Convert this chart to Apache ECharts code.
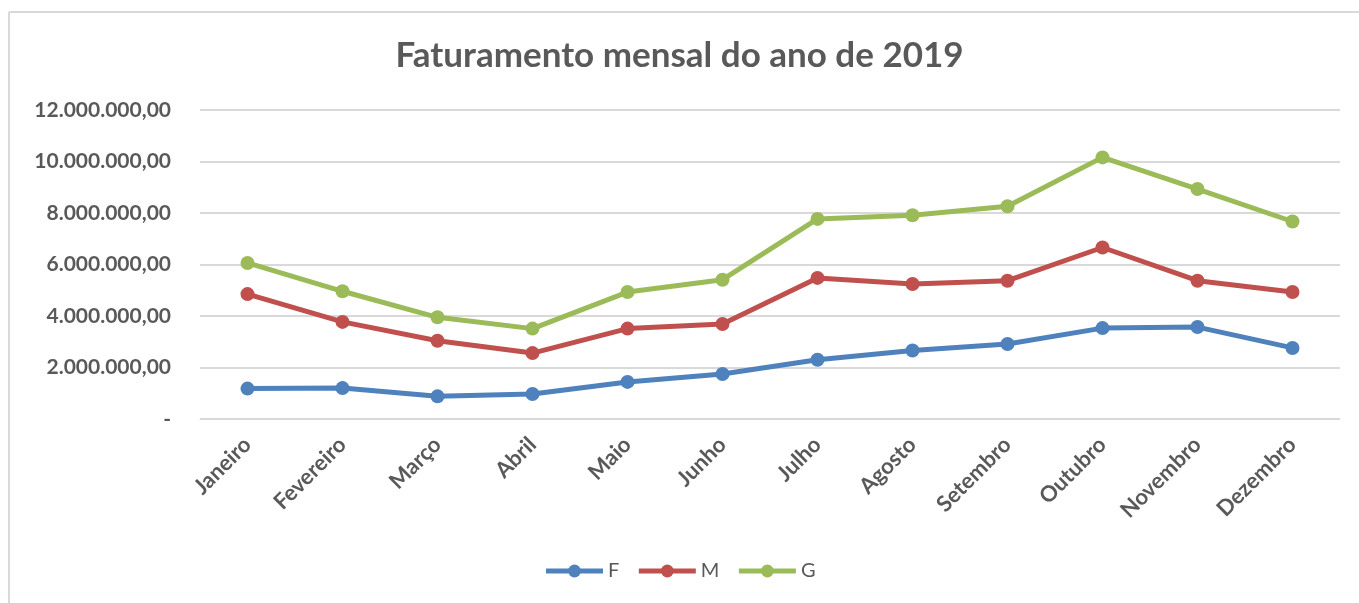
<!DOCTYPE html>
<html>
<head>
<meta charset="utf-8">
<script src="https://cdn.jsdelivr.net/npm/echarts@6/dist/echarts.min.js"></script>
<style>
html,body{margin:0;padding:0;background:#fff;}
#c{width:1359px;height:603px;}
</style>
</head>
<body>
<div id="c"></div>
<script>
const months = ['Janeiro','Fevereiro','Março','Abril','Maio','Junho','Julho','Agosto','Setembro','Outubro','Novembro','Dezembro'];
const seriesF = [1180000,1200000,880000,970000,1440000,1750000,2300000,2660000,2910000,3530000,3570000,2760000];
const seriesM = [4850000,3770000,3040000,2560000,3510000,3690000,5480000,5240000,5370000,6660000,5370000,4930000];
const seriesG = [6060000,4960000,3950000,3510000,4930000,5410000,7770000,7910000,8260000,10160000,8930000,7670000];
const seriesNames = ['F','M','G'];
const colors = ['#4F81BD','#C0504D','#9BBB59'];

function fmt(v){
  if (v === 0) return '-';
  const parts = v.toFixed(2).split('.');
  return parts[0].replace(/\B(?=(\d{3})+(?!\d))/g, '.') + ',' + parts[1];
}

const chart = echarts.init(document.getElementById('c'));
const FONT = 'Lato, "Open Sans", sans-serif';
const data = [seriesF, seriesM, seriesG];
chart.setOption({
  animation: false,
  color: colors,
  textStyle: {fontFamily: FONT},
  title: {
    text: 'Faturamento mensal do ano de 2019',
    left: 'center', top: 33,
    textStyle: {fontFamily: FONT, fontSize: 35, fontWeight: 'bold', color: '#595959'}
  },
  graphic: [
    {type:'line', shape:{x1:9, y1:12, x2:1359, y2:12}, style:{stroke:'#d9d9d9', lineWidth:2}},
    {type:'line', shape:{x1:9, y1:12, x2:9, y2:603}, style:{stroke:'#d9d9d9', lineWidth:2}}
  ],
  legend: {
    bottom: 17, left: 'center',
    itemWidth: 57, itemHeight: 16, itemGap: 17,
    lineStyle: {width: 5},
    textStyle: {fontFamily: FONT, fontSize: 20, color: '#595959'},
    data: seriesNames
  },
  grid: {left: 200, right: 19, top: 110, bottom: 184, containLabel: false},
  xAxis: {
    type: 'category',
    data: months,
    boundaryGap: true,
    axisLine: {show: true, lineStyle: {color: '#d9d9d9', width: 1}},
    axisTick: {show: false},
    axisLabel: {rotate: 45, fontSize: 22, fontWeight: 'bold', color: '#595959', margin: 22, interval: 0}
  },
  yAxis: {
    type: 'value',
    min: 0, max: 12000000, interval: 2000000,
    axisLine: {show: false},
    axisTick: {show: false},
    splitLine: {lineStyle: {color: '#d9d9d9', width: 2}},
    axisLabel: {formatter: fmt, fontSize: 21, fontWeight: 'bold', color: '#595959', margin: 29}
  },
  series: seriesNames.map((n, i) => ({
    name: n,
    type: 'line',
    data: data[i],
    symbol: 'circle',
    symbolSize: 14,
    lineStyle: {width: 5, color: colors[i]},
    itemStyle: {color: colors[i]}
  }))
});
</script>
</body>
</html>
